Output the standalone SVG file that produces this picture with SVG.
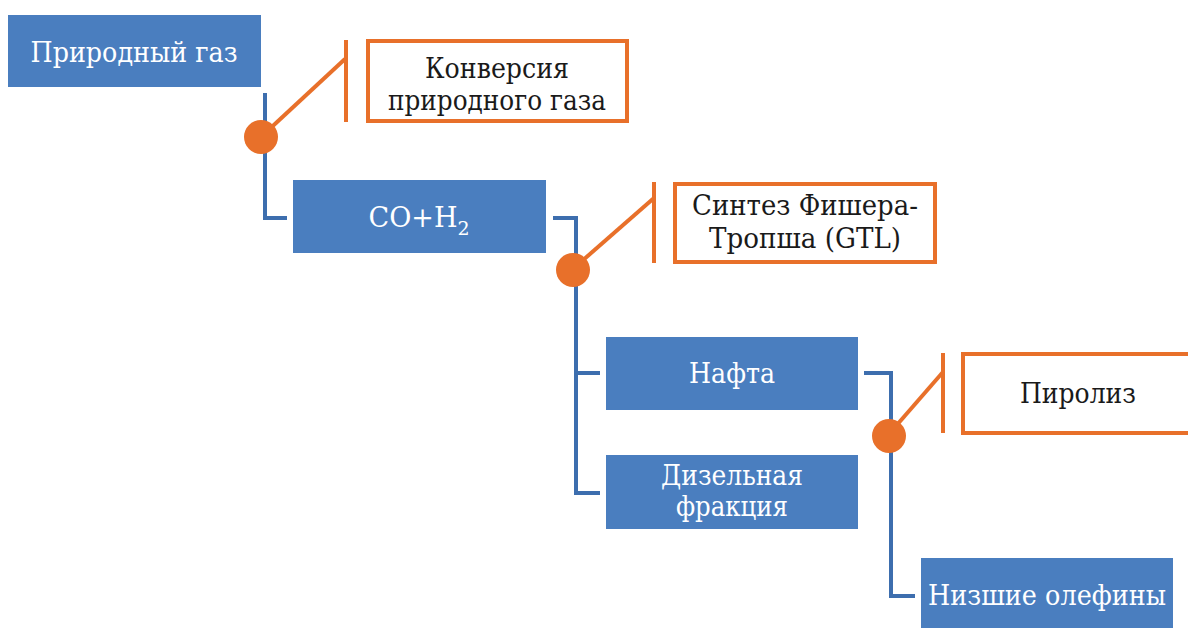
<svg xmlns="http://www.w3.org/2000/svg" width="1188" height="628" viewBox="0 0 1188 628">
<style>
.blue{fill:#4a7ebf}
.obox{fill:#ffffff;stroke:#e8702a;stroke-width:4}
.wt{font-family:"DejaVu Serif",serif;font-size:27px;fill:#ffffff;text-anchor:middle}
.bt{font-family:"DejaVu Serif",serif;font-size:27px;fill:#1a1a1a;text-anchor:middle}
.bl{fill:none;stroke:#3d6eae;stroke-width:4}
.ol{fill:none;stroke:#e8702a;stroke-width:4}
.dot{fill:#e8702a}
</style>
<g id="connectors">
<polyline class="bl" points="265,93 265,218 287,218"/>
<polyline class="bl" points="553,218 576,218 576,493 600,493"/>
<line class="bl" x1="576" y1="373" x2="600" y2="373"/>
<polyline class="bl" points="864,373 891,373 891,596 915,596"/>
<line class="ol" x1="262" y1="136" x2="345" y2="59"/>
<line class="ol" x1="346" y1="40" x2="346" y2="122"/>
<line class="ol" x1="574" y1="268" x2="654" y2="198"/>
<line class="ol" x1="654" y1="182" x2="654" y2="263"/>
<line class="ol" x1="889" y1="434" x2="943" y2="372"/>
<line class="ol" x1="943" y1="353" x2="943" y2="433"/>
<circle class="dot" cx="261" cy="137" r="17"/>
<circle class="dot" cx="573" cy="270" r="17"/>
<circle class="dot" cx="889" cy="436" r="17"/>
</g>
<g id="n1">
<rect class="blue" x="8" y="15" width="253" height="72"/>
<text class="wt" x="134" y="62" textLength="207" lengthAdjust="spacingAndGlyphs">Природный газ</text>
</g>
<g id="p1">
<rect class="obox" x="368" y="41" width="259" height="80"/>
<text class="bt" x="497" y="78" textLength="144" lengthAdjust="spacingAndGlyphs">Конверсия</text>
<text class="bt" x="497" y="110" textLength="218" lengthAdjust="spacingAndGlyphs">природного газа</text>
</g>
<g id="n2">
<rect class="blue" x="293" y="180" width="253" height="73"/>
<text class="wt" x="419" y="227">CO+H<tspan font-size="19" dy="8">2</tspan></text>
</g>
<g id="p2">
<rect class="obox" x="675" y="184" width="260" height="78"/>
<text class="bt" x="805" y="215" textLength="226" lengthAdjust="spacingAndGlyphs">Синтез Фишера-</text>
<text class="bt" x="805" y="248" textLength="192" lengthAdjust="spacingAndGlyphs">Тропша (GTL)</text>
</g>
<g id="n3">
<rect class="blue" x="606" y="337" width="252" height="73"/>
<text class="wt" x="732" y="383" textLength="86" lengthAdjust="spacingAndGlyphs">Нафта</text>
</g>
<g id="n4">
<rect class="blue" x="606" y="455" width="252" height="74"/>
<text class="wt" x="732" y="485" textLength="142" lengthAdjust="spacingAndGlyphs">Дизельная</text>
<text class="wt" x="732" y="516" textLength="112" lengthAdjust="spacingAndGlyphs">фракция</text>
</g>
<g id="p3">
<rect class="obox" x="963" y="354" width="230" height="79"/>
<text class="bt" x="1078" y="403" textLength="116" lengthAdjust="spacingAndGlyphs">Пиролиз</text>
</g>
<g id="n5">
<rect class="blue" x="921" y="558" width="252" height="80"/>
<text class="wt" x="1047" y="605" textLength="238" lengthAdjust="spacingAndGlyphs">Низшие олефины</text>
</g>
</svg>
